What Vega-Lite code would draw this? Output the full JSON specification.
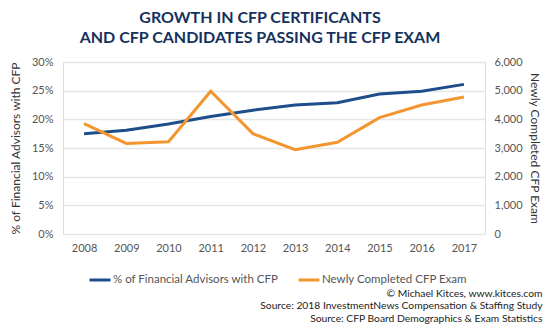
{
  "$schema": "https://vega.github.io/schema/vega-lite/v6.json",
  "width": 422,
  "height": 172,
  "autosize": {"type": "none"},
  "padding": {"left": 63, "top": 62, "right": 65, "bottom": 96},
  "background": "white",
  "title": {
    "text": ["GROWTH IN CFP CERTIFICANTS", "AND CFP CANDIDATES PASSING THE CFP EXAM"],
    "font": "Lato",
    "fontSize": 16,
    "fontWeight": "bold",
    "color": "#16325c",
    "lineHeight": 20,
    "anchor": "middle",
    "dx": -14,
    "offset": 10
  },
  "data": {
    "values": [
      {"year": "2008", "pct": 0.175, "exam": 3850},
      {"year": "2009", "pct": 0.181, "exam": 3160},
      {"year": "2010", "pct": 0.192, "exam": 3220},
      {"year": "2011", "pct": 0.205, "exam": 4980},
      {"year": "2012", "pct": 0.216, "exam": 3500},
      {"year": "2013", "pct": 0.225, "exam": 2940},
      {"year": "2014", "pct": 0.229, "exam": 3200},
      {"year": "2015", "pct": 0.244, "exam": 4060},
      {"year": "2016", "pct": 0.249, "exam": 4500},
      {"year": "2017", "pct": 0.261, "exam": 4780}
    ]
  },
  "encoding": {
    "x": {
      "field": "year",
      "type": "ordinal",
      "scale": {"type": "point", "padding": 0.5},
      "axis": {
        "labelAngle": 0,
        "domain": false,
        "ticks": false,
        "grid": false,
        "labelPadding": 8,
        "labelFont": "Lato",
        "labelFontSize": 11,
        "labelColor": "#555555",
        "title": ["© Michael Kitces, www.kitces.com", "Source: 2018 InvestmentNews Compensation & Staffing Study", "Source: CFP Board Demographics & Exam Statistics"],
        "titleX": 479,
        "titleY": 54,
        "titleAlign": "right",
        "titleAnchor": null,
        "titleBaseline": "top",
        "titleLineHeight": 12.5,
        "titleFont": "Lato",
        "titleFontSize": 10.3,
        "titleFontWeight": "normal",
        "titleColor": "#222222"
      }
    }
  },
  "layer": [
    {
      "mark": {"type": "line", "strokeWidth": 3},
      "encoding": {
        "y": {
          "field": "pct",
          "type": "quantitative",
          "scale": {"domain": [0, 0.3]},
          "axis": {
            "values": [0, 0.05, 0.1, 0.15, 0.2, 0.25, 0.3],
            "format": ".0%",
            "domain": false,
            "ticks": false,
            "grid": true,
            "gridColor": "#e6e6e6",
            "gridWidth": 1.5,
            "labelPadding": 10,
            "labelFont": "Lato",
            "labelFontSize": 11,
            "labelColor": "#555555",
            "title": "% of Financial Advisors with CFP",
            "titleFont": "Lato",
            "titleFontSize": 12,
            "titleFontWeight": "normal",
            "titleColor": "#333333",
            "titlePadding": 9
          }
        },
        "color": {
          "datum": "% of Financial Advisors with CFP",
          "scale": {
            "domain": ["% of Financial Advisors with CFP", "Newly Completed CFP Exam"],
            "range": ["#1d4e89", "#f39530"]
          },
          "legend": {
            "orient": "none",
            "legendX": 25,
            "legendY": 206,
            "direction": "horizontal",
            "title": null,
            "symbolType": "stroke",
            "symbolSize": 440,
            "symbolStrokeWidth": 3,
            "labelFont": "Lato",
            "labelFontSize": 11.5,
            "labelColor": "#555555",
            "labelLimit": 400,
            "labelOffset": 1,
            "columnPadding": 13
          }
        }
      }
    },
    {
      "mark": {"type": "line", "strokeWidth": 3},
      "encoding": {
        "y": {
          "field": "exam",
          "type": "quantitative",
          "scale": {"domain": [0, 6000]},
          "axis": {
            "orient": "right",
            "values": [0, 1000, 2000, 3000, 4000, 5000, 6000],
            "format": ",.0f",
            "domain": false,
            "ticks": false,
            "grid": false,
            "labelPadding": 9,
            "labelFont": "Lato",
            "labelFontSize": 11,
            "labelColor": "#555555",
            "title": "Newly Completed CFP Exam",
            "titleFont": "Lato",
            "titleFontSize": 12,
            "titleFontWeight": "normal",
            "titleColor": "#333333",
            "titlePadding": 5
          }
        },
        "color": {"datum": "Newly Completed CFP Exam"}
      }
    }
  ],
  "resolve": {"scale": {"y": "independent"}}
}
